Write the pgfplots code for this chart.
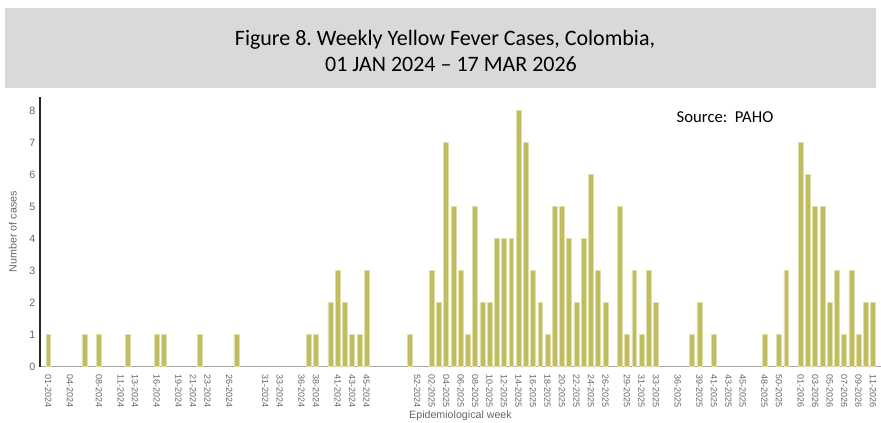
\documentclass[border=0pt]{standalone}
\usepackage{fontspec}
\usepackage{pgfplots}
\pgfplotsset{compat=1.18}
\setmainfont{Liberation Sans}
\newfontfamily\calibri{Carlito}
\newfontfamily\arial{Liberation Sans}
\definecolor{barcol}{RGB}{192,188,98}
\definecolor{baredge}{RGB}{226,223,172}
\definecolor{titlebg}{RGB}{217,217,217}
\definecolor{ticktext}{RGB}{102,102,102}
\frenchspacing
\begin{document}
\begin{tikzpicture}[x=0.75pt,y=0.75pt]
\path[use as bounding box] (0,0) rectangle (881,423);
\fill[titlebg] (5,335) rectangle (876,415);
\node[font=\calibri\fontsize{16.5}{20}\selectfont, text=black] at (445,383) {Figure 8. Weekly Yellow Fever Cases, Colombia,};
\node[font=\calibri\fontsize{16.5}{20}\selectfont, text=black] at (451,359) {01 JAN 2024 – 17 MAR 2026};
\node[font=\calibri\fontsize{12.5}{15}\selectfont, text=black] at (725,306) {Source:\ \ PAHO};
\begin{axis}[
  at={(30pt,42.225pt)}, anchor=south west,
  scale only axis, width=630.75pt, height=202.5pt,
  xmin=-1.14, xmax=115.1, ymin=0, ymax=8.44,
  axis x line=bottom, axis y line=left,
  x axis line style={-, draw=black!35, line width=0.8pt},
  y axis line style={-, draw=black!85, line width=0.8pt},
  major tick length=0pt,
  ytick={0,1,2,3,4,5,6,7,8},
  xtick={0,3,7,10,12,15,18,20,22,25,30,32,35,37,40,42,44,51,53,55,57,59,61,63,65,67,69,71,73,75,77,80,82,84,87,90,92,94,96,99,101,104,106,108,110,112,114},
  xticklabels={01-2024,04-2024,08-2024,11-2024,13-2024,16-2024,19-2024,21-2024,23-2024,26-2024,31-2024,33-2024,36-2024,38-2024,41-2024,43-2024,45-2024,52-2024,02-2025,04-2025,06-2025,08-2025,10-2025,12-2025,14-2025,16-2025,18-2025,20-2025,22-2025,24-2025,26-2025,29-2025,31-2025,33-2025,36-2025,39-2025,41-2025,43-2025,45-2025,48-2025,50-2025,01-2026,03-2026,05-2026,07-2026,09-2026,11-2026},
  /pgf/number format/assume math mode=true,
  yticklabel style={font=\arial\fontsize{8}{9}\selectfont, text=ticktext},
  xticklabel style={font=\arial\fontsize{6.75}{8}\selectfont, text=ticktext, rotate=-90, anchor=west, inner xsep=6pt, xshift=0pt},
  xlabel={Epidemiological week},
  ylabel={Number of cases},
  xlabel style={font=\arial\fontsize{8}{9}\selectfont, text=ticktext, at={(axis description cs:0.5,-0.164)}, anchor=north, inner sep=0pt},
  ylabel style={font=\arial\fontsize{8}{9}\selectfont, text=ticktext, at={(axis description cs:-0.0323,0.5)}, anchor=center, inner sep=0pt},
  clip=false,
]
\addplot[ybar, bar width=0.68, fill=barcol, draw=baredge, line width=0.4pt] coordinates {
(0,1) (5,1) (7,1) (11,1) (15,1) (16,1) (21,1) (26,1)
(36,1) (37,1) (39,2) (40,3) (41,2) (42,1) (43,1) (44,3) (50,1)
(53,3) (54,2) (55,7) (56,5) (57,3) (58,1) (59,5) (60,2) (61,2)
(62,4) (63,4) (64,4) (65,8) (66,7) (67,3) (68,2) (69,1) (70,5)
(71,5) (72,4) (73,2) (74,4) (75,6) (76,3) (77,2) (79,5) (80,1)
(81,3) (82,1) (83,3) (84,2) (89,1) (90,2) (92,1) (99,1) (101,1) (102,3)
(104,7) (105,6) (106,5) (107,5) (108,2) (109,3) (110,1) (111,3) (112,1) (113,2) (114,2)
};
\end{axis}
\end{tikzpicture}
\end{document}
